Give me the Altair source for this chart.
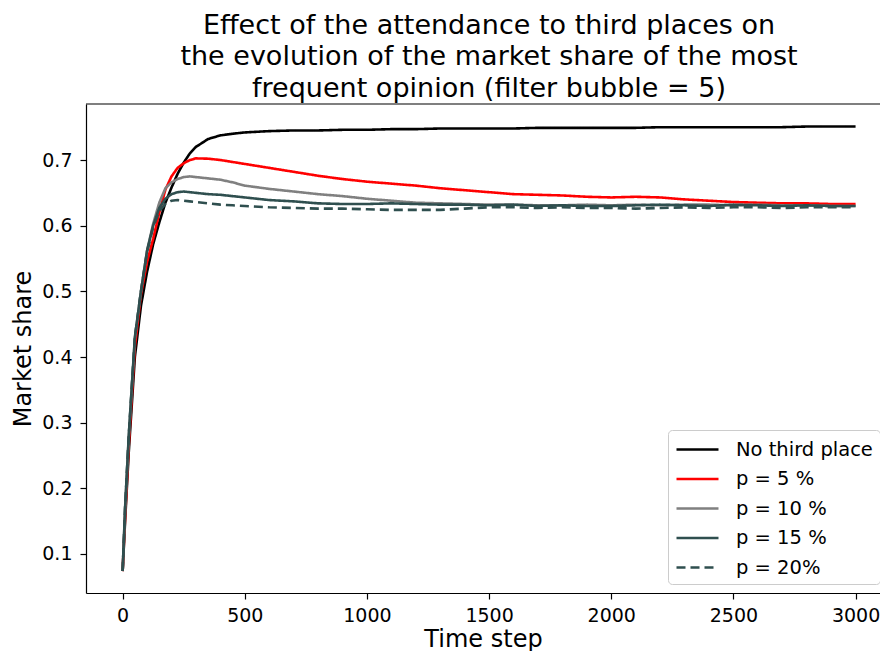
import altair as alt
import pandas as pd

# ---- data ----
time_steps = [0, 10, 25, 50, 75, 100, 125, 150, 175, 200, 225, 250, 275, 300, 350, 400, 450, 500,
              600, 700, 800, 900, 1000, 1100, 1200, 1300, 1400, 1500, 1600, 1700, 1800, 1900, 2000,
              2100, 2200, 2300, 2400, 2500, 2600, 2700, 2800, 2900, 3000]

no_third_place = [0.074, 0.150, 0.255, 0.400, 0.478, 0.530, 0.572, 0.605, 0.635, 0.658, 0.679, 0.696,
                  0.710, 0.720, 0.732, 0.7375, 0.740, 0.742, 0.744, 0.745, 0.745, 0.746, 0.746, 0.747,
                  0.747, 0.748, 0.748, 0.748, 0.748, 0.749, 0.749, 0.749, 0.749, 0.749, 0.750, 0.750,
                  0.750, 0.750, 0.750, 0.750, 0.751, 0.751, 0.751]

p5 = [0.074, 0.155, 0.265, 0.415, 0.495, 0.545, 0.580, 0.620, 0.655, 0.675, 0.688, 0.695, 0.700,
      0.7025, 0.702, 0.700, 0.697, 0.694, 0.688, 0.682, 0.676, 0.671, 0.667, 0.664, 0.661, 0.657,
      0.654, 0.651, 0.648, 0.647, 0.646, 0.644, 0.643, 0.644, 0.643, 0.640, 0.638, 0.636, 0.635,
      0.634, 0.634, 0.633, 0.633]

p10 = [0.074, 0.168, 0.278, 0.428, 0.500, 0.562, 0.603, 0.635, 0.657, 0.666, 0.671, 0.674, 0.675,
       0.674, 0.672, 0.670, 0.666, 0.661, 0.656, 0.652, 0.648, 0.645, 0.641, 0.638, 0.635, 0.634,
       0.633, 0.632, 0.632, 0.631, 0.631, 0.632, 0.631, 0.632, 0.631, 0.632, 0.632, 0.631, 0.632,
       0.631, 0.631, 0.630, 0.630]

p15 = [0.074, 0.170, 0.280, 0.430, 0.500, 0.562, 0.600, 0.627, 0.641, 0.648, 0.651, 0.652, 0.651,
       0.650, 0.648, 0.647, 0.645, 0.643, 0.639, 0.637, 0.634, 0.633, 0.633, 0.634, 0.633, 0.632,
       0.632, 0.631, 0.632, 0.630, 0.631, 0.630, 0.630, 0.631, 0.632, 0.631, 0.630, 0.632, 0.631,
       0.630, 0.631, 0.630, 0.630]

p20 = [0.074, 0.170, 0.280, 0.430, 0.500, 0.560, 0.598, 0.622, 0.633, 0.638, 0.639, 0.638, 0.637,
       0.636, 0.634, 0.632, 0.631, 0.630, 0.628, 0.627, 0.626, 0.626, 0.625, 0.624, 0.624, 0.624,
       0.626, 0.628, 0.628, 0.627, 0.628, 0.627, 0.627, 0.626, 0.627, 0.628, 0.627, 0.628, 0.628,
       0.627, 0.628, 0.628, 0.628]

series_names = ["No third place", "p = 5 %", "p = 10 %", "p = 15 %", "p = 20%"]
series_values = [no_third_place, p5, p10, p15, p20]
series_colors = ["#000000", "#ff0000", "#808080", "#2f4f4f", "#2f4f4f"]
series_dashes = [[1, 0], [1, 0], [1, 0], [1, 0], [9, 5]]

x_ticks = [0, 500, 1000, 1500, 2000, 2500, 3000]
y_ticks = [0.1, 0.2, 0.3, 0.4, 0.5, 0.6, 0.7]

rows = []
for name, vals in zip(series_names, series_values):
    for t, v in zip(time_steps, vals):
        rows.append({"series": name, "t": t, "share": v})
df = pd.DataFrame(rows)

W, H = 794, 489

lines = alt.Chart(df).mark_line(strokeWidth=2.6, interpolate="linear").encode(
    x=alt.X("t:Q", scale=alt.Scale(domain=[-150, 3100], nice=False, zero=False),
            axis=alt.Axis(values=x_ticks, format="d", title="Time step")),
    y=alt.Y("share:Q", scale=alt.Scale(domain=[0.0406, 0.7853], nice=False, zero=False),
            axis=alt.Axis(values=y_ticks, format=".1f", title="Market share")),
    color=alt.Color("series:N", sort=series_names,
                    scale=alt.Scale(domain=series_names, range=series_colors),
                    legend=alt.Legend(title=None, orient="none", legendX=582, legendY=326,
                                      symbolType="M-1,0H2.818", symbolSize=484,
                                      symbolStrokeWidth=2.6, labelOffset=36, rowPadding=7.5,
                                      padding=7, labelFontSize=19.5, labelColor="black",
                                      strokeColor="#cccccc", fillColor="white",
                                      cornerRadius=4, labelLimit=300)),
    strokeDash=alt.StrokeDash("series:N", sort=series_names,
                              scale=alt.Scale(domain=series_names, range=series_dashes),
                              legend=None),
    detail="series:N",
)

frame_top = alt.Chart(pd.DataFrame({"a": [0]})).mark_rule(color="black", strokeWidth=1.2).encode(
    x=alt.value(0), x2=alt.value(W), y=alt.value(0)
)

chart = alt.layer(lines, frame_top).properties(
    width=W, height=H,
    autosize=alt.AutoSizeParams(type="none"),
    padding={"left": 78, "top": 96, "right": 0, "bottom": 58},
    title=alt.TitleParams(
        text=["Effect of the attendance to third places on",
              "the evolution of the market share of the most",
              "frequent opinion (filter bubble = 5)"],
        fontSize=27, fontWeight="normal", lineHeight=31.5, anchor="middle",
        baseline="bottom", offset=9, dy=35.5, dx=6, color="black", frame="group",
    ),
).configure(font="DejaVu Sans").configure_view(stroke=None).configure_axis(
    grid=False, domainColor="black", domainWidth=1.2, tickColor="black", tickWidth=1.2,
    tickSize=6, labelFontSize=19, labelColor="black", titleFontSize=24,
    titleFontWeight="normal", titleColor="black",
).configure_axisX(labelPadding=7, titlePadding=2).configure_axisY(labelPadding=8, titlePadding=6)

chart.save("out.html", embed_options={"renderer": "svg", "actions": False})
